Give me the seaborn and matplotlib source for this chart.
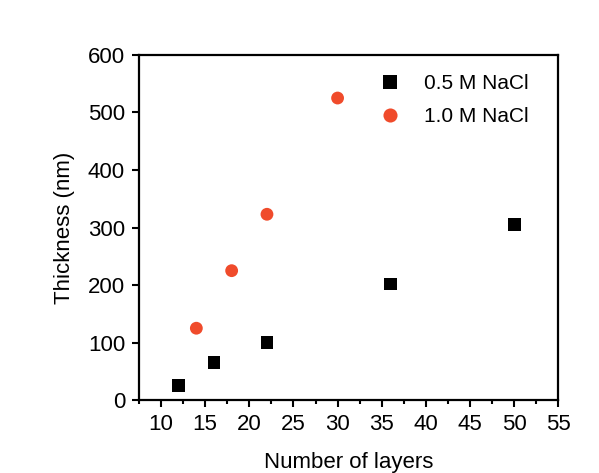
import pandas as pd
import numpy as np
import matplotlib
matplotlib.use('Agg')
import matplotlib.pyplot as plt
import seaborn as sns
from matplotlib.ticker import MultipleLocator

# dados
camadas_05 = [12, 16, 22, 36, 50]
espessura_05 = [25, 65, 100, 202, 305]
camadas_10 = [14, 18, 22, 30]
espessura_10 = [125, 225, 323, 525]
series = ['0.5 M NaCl', '1.0 M NaCl']

df = pd.DataFrame({
    'layers': camadas_05 + camadas_10,
    'thickness': espessura_05 + espessura_10,
    'serie': [series[0]] * len(camadas_05) + [series[1]] * len(camadas_10),
})

sns.set_style('white')
plt.rcParams['font.family'] = ['Liberation Sans', 'DejaVu Sans']
plt.rcParams['text.color'] = 'black'
plt.rcParams['axes.labelcolor'] = 'black'
plt.rcParams['xtick.color'] = 'black'
plt.rcParams['ytick.color'] = 'black'

fig = plt.figure(figsize=(5.99, 4.73), dpi=100)
ax = fig.add_axes([0.232, 0.154, 0.700, 0.730])

sns.scatterplot(data=df, x='layers', y='thickness', hue='serie', style='serie',
                palette={series[0]: 'black', series[1]: '#F04B2B'},
                markers={series[0]: 's', series[1]: 'o'},
                s=85, linewidth=0, ax=ax)

ax.set_xlim(7.5, 55)
ax.set_ylim(0, 600)
ax.xaxis.set_major_locator(MultipleLocator(5))
ax.xaxis.set_minor_locator(MultipleLocator(2.5))
ax.yaxis.set_major_locator(MultipleLocator(100))
ax.tick_params(axis='both', which='major', direction='out', length=5, width=1.5,
               labelsize=16, bottom=True, left=True, pad=5)
ax.tick_params(axis='x', which='minor', direction='out', length=3, width=1.5,
               bottom=True)
for s in ax.spines.values():
    s.set_color('black')
    s.set_linewidth(1.6)

ax.set_xlabel('Number of layers', fontsize=16, labelpad=12)
ax.set_ylabel('Thickness (nm)', fontsize=16, labelpad=9)

leg = ax.legend(loc='upper right', bbox_to_anchor=(0.975, 0.998), frameon=False,
                fontsize=15, handletextpad=0.65, labelspacing=0.65, markerscale=1.1)

fig.savefig('out.png', dpi=100)
